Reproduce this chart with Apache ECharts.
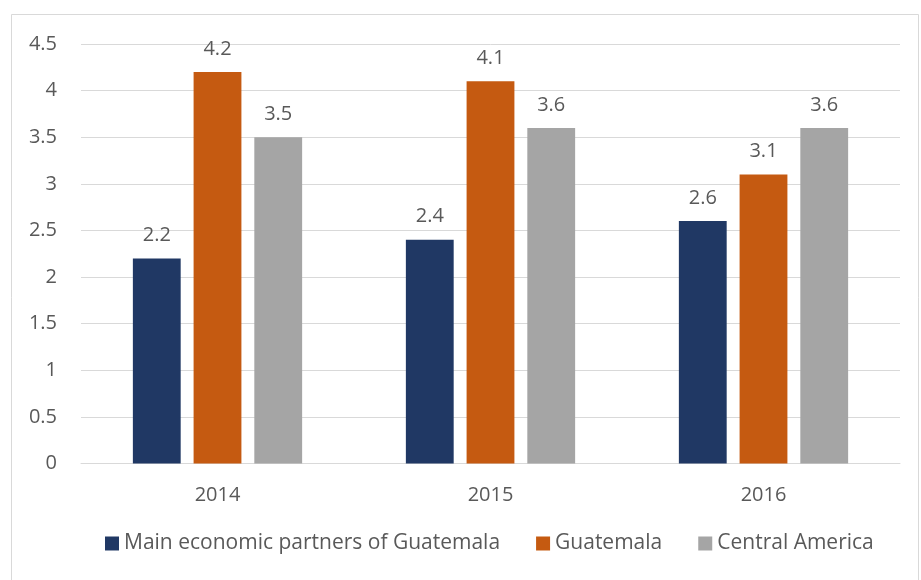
<!DOCTYPE html>
<html>
<head>
<meta charset="utf-8">
<script src="https://cdn.jsdelivr.net/npm/echarts@6/dist/echarts.min.js"></script>
<style>
  html, body { margin: 0; padding: 0; background: #fff; }
  #chart { width: 921px; height: 580px; }
</style>
</head>
<body>
<div id="chart"></div>
<script>
// Growth figures by year
const years = ['2014', '2015', '2016'];
const partners = [2.2, 2.4, 2.6];
const guatemala = [4.2, 4.1, 3.1];
const centralAmerica = [3.5, 3.6, 3.6];
const seriesNames = ['Main economic partners of Guatemala', 'Guatemala', 'Central America'];
const seriesColors = ['#203864', '#C55A11', '#A5A5A5'];

const textColor = '#595959';
const fontFamily = '"Open Sans", "Liberation Sans", sans-serif';
const fontSize = 20;

const chart = echarts.init(document.getElementById('chart'), null, { renderer: 'canvas' });

function barSeries(name, data, color) {
  return {
    name: name,
    type: 'bar',
    data: data,
    barGap: '27%',
    barCategoryGap: '38%',
    itemStyle: { color: color },
    label: {
      show: true,
      position: 'top',
      distance: 13,
      color: textColor,
      fontFamily: fontFamily,
      fontSize: fontSize
    }
  };
}

chart.setOption({
  animation: false,
  backgroundColor: '#fff',
  graphic: [{
    type: 'rect',
    shape: { x: 11.5, y: 14.5, width: 907, height: 580 },
    style: { fill: 'none', stroke: '#D9D9D9', lineWidth: 1 },
    silent: true
  }],
  grid: { left: 81, right: 21, top: 44, bottom: 116.5 },
  legend: {
    bottom: 21,
    left: 100,
    itemWidth: 14,
    itemHeight: 14,
    itemGap: 36,
    icon: 'rect',
    textStyle: { color: textColor, fontFamily: fontFamily, fontSize: 21 },
    data: seriesNames
  },
  xAxis: {
    type: 'category',
    data: years,
    axisLine: { show: true, lineStyle: { color: '#D9D9D9' } },
    axisTick: { show: false },
    axisLabel: { color: textColor, fontFamily: fontFamily, fontSize: fontSize, margin: 22 }
  },
  yAxis: {
    type: 'value',
    min: 0,
    max: 4.5,
    interval: 0.5,
    axisLine: { show: false },
    axisTick: { show: false },
    splitLine: { lineStyle: { color: '#D9D9D9' } },
    axisLabel: { color: textColor, fontFamily: fontFamily, fontSize: fontSize, margin: 24 }
  },
  series: [
    barSeries(seriesNames[0], partners, seriesColors[0]),
    barSeries(seriesNames[1], guatemala, seriesColors[1]),
    barSeries(seriesNames[2], centralAmerica, seriesColors[2])
  ]
});
</script>
</body>
</html>
